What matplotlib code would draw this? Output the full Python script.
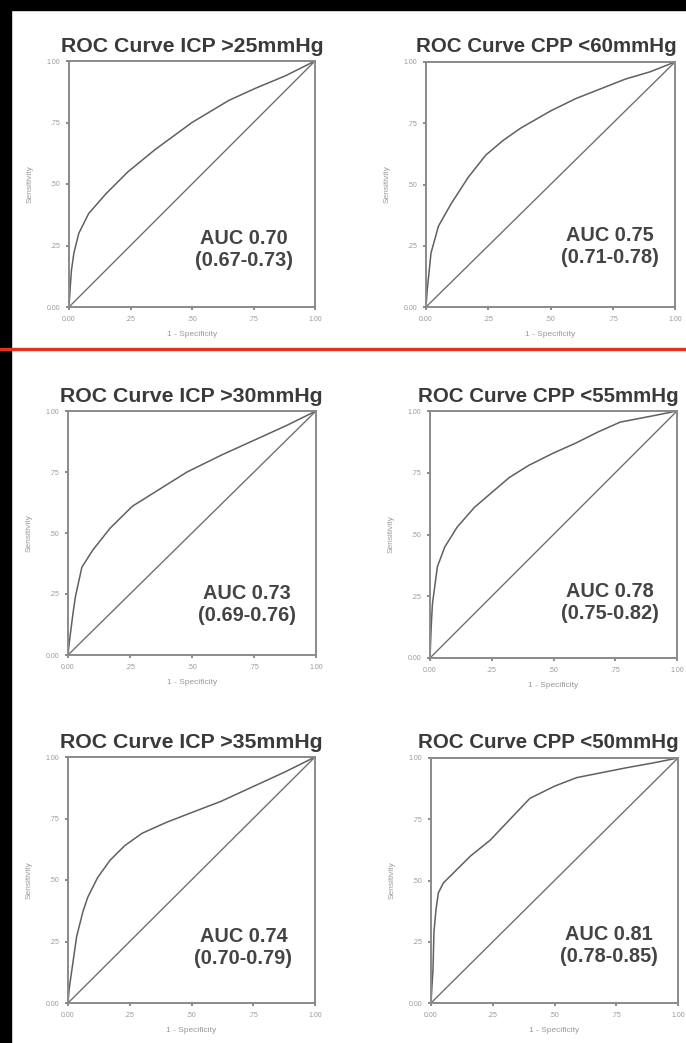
import matplotlib
matplotlib.use('Agg')
import matplotlib.pyplot as plt
from matplotlib.patches import Rectangle

W, H = 686, 1043

titles = ['ROC Curve ICP >25mmHg', 'ROC Curve CPP <60mmHg',
          'ROC Curve ICP >30mmHg', 'ROC Curve CPP <55mmHg',
          'ROC Curve ICP >35mmHg', 'ROC Curve CPP <50mmHg']
auc_text = ['AUC 0.70\n(0.67-0.73)', 'AUC 0.75\n(0.71-0.78)',
            'AUC 0.73\n(0.69-0.76)', 'AUC 0.78\n(0.75-0.82)',
            'AUC 0.74\n(0.70-0.79)', 'AUC 0.81\n(0.78-0.85)']
tick_vals = [0, 0.25, 0.5, 0.75, 1.0]
tick_labels = ['0.00', '.25', '.50', '.75', '1.00']

# 1 - specificity / sensitivity
fpr_icp25 = [0, 0.005, 0.01, 0.02, 0.04, 0.08, 0.15, 0.24, 0.35, 0.5, 0.65, 0.76, 0.88, 1.0]
tpr_icp25 = [0, 0.08, 0.15, 0.22, 0.30, 0.38, 0.46, 0.55, 0.64, 0.75, 0.84, 0.89, 0.94, 1.0]
fpr_cpp60 = [0, 0.005, 0.01, 0.02, 0.05, 0.10, 0.17, 0.24, 0.31, 0.38, 0.5, 0.6, 0.7, 0.8, 0.9, 1.0]
tpr_cpp60 = [0, 0.07, 0.12, 0.22, 0.33, 0.42, 0.53, 0.62, 0.68, 0.73, 0.80, 0.85, 0.89, 0.93, 0.96, 1.0]
fpr_icp30 = [0, 0.005, 0.01, 0.02, 0.03, 0.056, 0.1, 0.17, 0.26, 0.37, 0.48, 0.62, 0.75, 0.88, 1.0]
tpr_icp30 = [0, 0.05, 0.09, 0.17, 0.24, 0.36, 0.43, 0.52, 0.61, 0.68, 0.75, 0.82, 0.88, 0.94, 1.0]
fpr_cpp55 = [0, 0.003, 0.006, 0.01, 0.03, 0.06, 0.11, 0.18, 0.25, 0.32, 0.40, 0.5, 0.59, 0.68, 0.77, 0.9, 1.0]
tpr_cpp55 = [0, 0.08, 0.15, 0.22, 0.37, 0.45, 0.53, 0.61, 0.67, 0.73, 0.78, 0.83, 0.87, 0.915, 0.955, 0.98, 1.0]
fpr_icp35 = [0, 0.005, 0.015, 0.035, 0.06, 0.08, 0.12, 0.17, 0.23, 0.3, 0.4, 0.49, 0.62, 0.75, 0.88, 1.0]
tpr_icp35 = [0, 0.06, 0.13, 0.27, 0.37, 0.43, 0.51, 0.58, 0.64, 0.69, 0.735, 0.77, 0.82, 0.88, 0.94, 1.0]
fpr_cpp50 = [0, 0.004, 0.008, 0.012, 0.02, 0.03, 0.05, 0.09, 0.16, 0.24, 0.32, 0.40, 0.5, 0.59, 0.79, 0.9, 1.0]
tpr_cpp50 = [0, 0.07, 0.135, 0.29, 0.38, 0.45, 0.49, 0.53, 0.60, 0.665, 0.75, 0.835, 0.885, 0.92, 0.96, 0.98, 1.0]

curves = [(fpr_icp25, tpr_icp25), (fpr_cpp60, tpr_cpp60),
          (fpr_icp30, tpr_icp30), (fpr_cpp55, tpr_cpp55),
          (fpr_icp35, tpr_icp35), (fpr_cpp50, tpr_cpp50)]

# axes boxes in pixels: left, right, top, bottom
boxes = [(69, 315, 61, 307), (426, 675, 62, 307),
         (68, 316, 411, 655), (430, 677, 411, 658),
         (68, 315, 757, 1003), (431, 678, 758, 1003)]
# title anchor (x, y, ha, size) in pixels
title_pos = [(192, 47, 'center', 15.3), (416, 47, 'left', 14.8),
             (191, 397, 'center', 15.3), (418, 396, 'left', 14.8),
             (191, 743, 'center', 15.3), (418, 742, 'left', 14.8)]
auc_pos = [(0.71, 0.235), (0.74, 0.245), (0.72, 0.205),
           (0.73, 0.225), (0.71, 0.225), (0.72, 0.235)]

plt.rcParams['font.family'] = ['Liberation Sans', 'DejaVu Sans']
fig = plt.figure(figsize=(W / 100, H / 100), dpi=100)
fig.patch.set_facecolor('white')

# scan border: black strips and the red cut line
fig.add_artist(Rectangle((0, 1 - 10 / H), 1, 10 / H, transform=fig.transFigure, color='black', zorder=5))
fig.add_artist(Rectangle((0, 0), 11 / W, 1, transform=fig.transFigure, color='black', zorder=5))
fig.add_artist(Rectangle((0, 1 - 350 / H), 1, 2 / H, transform=fig.transFigure, color='#e2321e', zorder=6))

frame_col = '#8a8a8a'
for i in range(6):
    l, r, t, b = boxes[i]
    ax = fig.add_axes([l / W, 1 - b / H, (r - l) / W, (b - t) / H])
    fx, ty = curves[i]
    ax.plot(fx, ty, color='#606060', lw=1.1)
    ax.plot([0, 1], [0, 1], color='#707070', lw=1.0)
    ax.set_xlim(0, 1)
    ax.set_ylim(0, 1)
    ax.set_xticks(tick_vals)
    ax.set_xticklabels(tick_labels)
    ax.set_yticks(tick_vals)
    ax.set_yticklabels(tick_labels)
    ax.tick_params(length=2.5, width=1.2, color='#777777', labelsize=5, labelcolor='#999999', pad=4)
    for s in ax.spines.values():
        s.set_color(frame_col)
        s.set_linewidth(1.4)
    ax.set_ylabel('Sensitivity', fontsize=6, color='#999999', labelpad=9)
    ax.set_xlabel('1 - Specificity', fontsize=6, color='#999999', labelpad=6)
    ax.text(auc_pos[i][0], auc_pos[i][1], auc_text[i], transform=ax.transAxes,
            ha='center', va='center', fontsize=14.3, fontweight='bold',
            color='#444444', linespacing=1.2)
    tx, tyy, ha, fs = title_pos[i]
    fig.text(tx / W, 1 - tyy / H, titles[i], ha=ha, va='center',
             fontsize=fs, fontweight='bold', color='#3a3a3a')

fig.savefig('out.png', dpi=100)
